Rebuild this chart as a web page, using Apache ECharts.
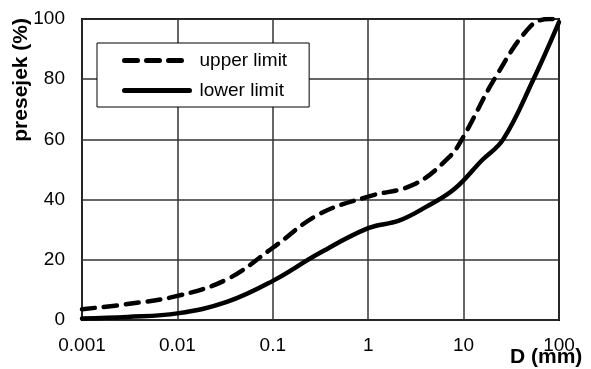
<!DOCTYPE html>
<html>
<head>
<meta charset="utf-8">
<script src="https://cdn.jsdelivr.net/npm/echarts@6/dist/echarts.min.js"></script>
<style>
  html, body { margin: 0; padding: 0; background: #fff; }
  #chart { width: 591px; height: 369px; }
</style>
</head>
<body>
<div id="chart"></div>
<script>
// grain size D (mm) and passing percentage
const upperD = [0.001, 0.003, 0.01, 0.033, 0.1, 0.3, 1, 3, 7, 10, 21, 50, 80, 100]
const upperP = [3.6, 5.3, 8, 13.5, 24, 35, 41, 45, 54, 61, 80, 97.5, 100, 100]
const lowerD = [0.001, 0.003, 0.01, 0.033, 0.1, 0.3, 1, 2.1, 4, 8, 15.5, 26, 54, 100]
const lowerP = [0.5, 1, 2.2, 6, 13, 22, 30.5, 33, 37.5, 43.5, 53, 60, 80, 99]
const yTicks = [0, 20, 40, 60, 80, 100]

const pairs = (xs, ys) => xs.map((x, i) => [x, ys[i]])

const myChart = echarts.init(document.getElementById('chart'))
const font = 'Arial, "Liberation Sans", sans-serif'

const options = {
  animation: false,
  backgroundColor: '#fff',
  grid: {
    show: true,
    left: 82,
    right: 32,
    top: 19,
    bottom: 49,
    borderColor: '#000',
    borderWidth: 2
  },
  legend: {
    data: ['upper limit', 'lower limit'],
    orient: 'vertical',
    left: 97,
    top: 43,
    backgroundColor: '#fff',
    borderColor: '#000',
    borderWidth: 1,
    borderRadius: 0,
    padding: [8, 22, 7, 25],
    itemWidth: 65,
    itemHeight: 14,
    itemGap: 11,
    itemStyle: { opacity: 0 },
    lineStyle: { width: 5, cap: 'round' },
    textStyle: {
      fontFamily: font,
      fontSize: 19,
      color: '#000',
      padding: [0, 0, 0, 5]
    }
  },
  xAxis: {
    type: 'log',
    logBase: 10,
    min: 0.001,
    max: 100,
    axisLine: { show: false },
    axisTick: { show: false },
    minorTick: { show: false },
    axisLabel: {
      margin: 16,
      fontFamily: font,
      fontSize: 19,
      color: '#000',
      formatter: v => parseFloat(Number(v).toPrecision(6)).toString()
    },
    splitLine: {
      show: true,
      lineStyle: { color: '#333', width: 1.5 }
    }
  },
  yAxis: {
    type: 'value',
    min: 0,
    max: 100,
    interval: 20,
    axisLine: { show: false },
    axisTick: { show: false },
    axisLabel: {
      margin: 17,
      fontFamily: font,
      fontSize: 19,
      color: '#000',
      formatter: v => (yTicks.indexOf(v) > -1 ? String(v) : '')
    },
    splitLine: {
      show: true,
      lineStyle: { color: '#333', width: 1.5 }
    }
  },
  graphic: [
    {
      type: 'text',
      left: 11,
      top: 18,
      rotation: Math.PI / 2,
      style: {
        text: 'presejek (%)',
        fontFamily: font,
        fontSize: 21,
        fontWeight: 'bold',
        fill: '#000'
      }
    },
    {
      type: 'text',
      left: 510,
      top: 347,
      style: {
        text: 'D (mm)',
        fontFamily: font,
        fontSize: 21,
        fontWeight: 'bold',
        fill: '#000'
      }
    }
  ],
  series: [
    {
      name: 'upper limit',
      type: 'line',
      data: pairs(upperD, upperP),
      smooth: 0.4,
      symbol: 'none',
      itemStyle: { color: '#000' },
      lineStyle: { color: '#000', width: 4.5, type: [13, 9], cap: 'round' }
    },
    {
      name: 'lower limit',
      type: 'line',
      data: pairs(lowerD, lowerP),
      smooth: 0.4,
      symbol: 'none',
      itemStyle: { color: '#000' },
      lineStyle: { color: '#000', width: 4.5, cap: 'round' }
    }
  ]
}
myChart.setOption(options)
</script>
</body>
</html>
